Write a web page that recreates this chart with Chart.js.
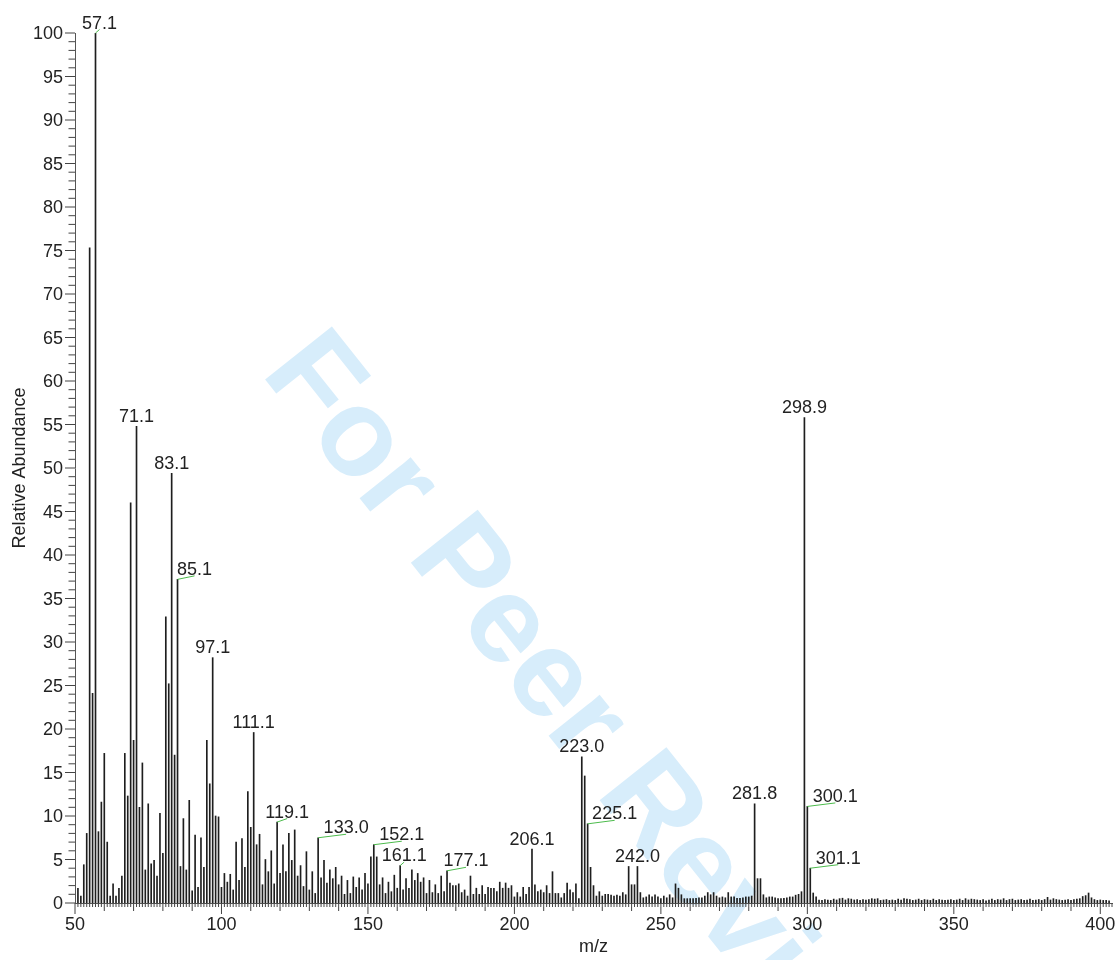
<!DOCTYPE html>
<html>
<head>
<meta charset="utf-8">
<script src="https://cdn.jsdelivr.net/npm/chart.js@4.4.0/dist/chart.umd.min.js"></script>
<style>
html,body{margin:0;padding:0;background:#ffffff;}
#wrap{width:1119px;height:960px;position:relative;}
canvas{display:block;}
</style>
</head>
<body>
<div id="wrap"><canvas id="c" width="1119" height="960"></canvas></div>
<script>
// ---- data (m/z, relative abundance %) ----
const mz = [
  51,52,53,54,55,56,57,58,59,60,
  61,62,63,64,65,66,67,68,69,70,
  71,72,73,74,75,76,77,78,79,80,
  81,82,83,84,85,86,87,88,89,90,
  91,92,93,94,95,96,97,98,99,100,
  101,102,103,104,105,106,107,108,109,110,
  111,112,113,114,115,116,117,118,119,120,
  121,122,123,124,125,126,127,128,129,130,
  131,132,133,134,135,136,137,138,139,140,
  141,142,143,144,145,146,147,148,149,150,
  151,152,153,154,155,156,157,158,159,160,
  161,162,163,164,165,166,167,168,169,170,
  171,172,173,174,175,176,177,178,179,180,
  181,182,183,184,185,186,187,188,189,190,
  191,192,193,194,195,196,197,198,199,200,
  201,202,203,204,205,206,207,208,209,210,
  211,212,213,214,215,216,217,218,219,220,
  221,222,223,224,225,226,227,228,229,230,
  231,232,233,234,235,236,237,238,239,240,
  241,242,243,244,245,246,247,248,249,250,
  251,252,253,254,255,256,257,258,259,260,
  261,262,263,264,265,266,267,268,269,270,
  271,272,273,274,275,276,277,278,279,280,
  281,282,283,284,285,286,287,288,289,290,
  291,292,293,294,295,296,297,298,299,300,
  301,302,303,304,305,306,307,308,309,310,
  311,312,313,314,315,316,317,318,319,320,
  321,322,323,324,325,326,327,328,329,330,
  331,332,333,334,335,336,337,338,339,340,
  341,342,343,344,345,346,347,348,349,350,
  351,352,353,354,355,356,357,358,359,360,
  361,362,363,364,365,366,367,368,369,370,
  371,372,373,374,375,376,377,378,379,380,
  381,382,383,384,385,386,387,388,389,390,
  391,392,393,394,395,396,397,398,399,400,
  401,402,403
];
const abundance = [
  1.7, 0.8, 4.4, 8.0, 75.3, 24.1, 100, 8.2, 11.6, 17.2,
  7.0, 0.8, 2.2, 0.8, 1.7, 3.1, 17.2, 12.3, 46.0, 18.7,
  54.8, 11.0, 16.1, 3.8, 11.4, 4.5, 4.9, 3.1, 10.3, 5.7,
  32.9, 25.2, 49.4, 17.0, 37.2, 4.2, 9.7, 3.8, 11.8, 1.4,
  7.8, 1.8, 7.5, 4.1, 18.7, 13.7, 28.2, 10.0, 9.9, 1.8,
  3.4, 2.4, 3.3, 1.5, 7.0, 2.6, 7.4, 4.1, 12.8, 8.7,
  19.6, 6.7, 7.9, 2.1, 5.0, 3.6, 6.0, 2.2, 9.3, 3.4,
  6.7, 3.6, 8.0, 4.9, 8.4, 3.1, 4.3, 1.9, 5.9, 1.5,
  3.6, 1.1, 7.5, 2.9, 4.9, 2.3, 3.8, 2.8, 4.1, 2.1,
  3.1, 1.0, 2.6, 1.1, 3.0, 1.8, 2.9, 1.5, 3.4, 2.2,
  5.3, 6.7, 5.3, 2.1, 2.9, 1.1, 2.4, 1.3, 3.2, 1.7,
  4.3, 1.5, 2.8, 1.7, 3.8, 2.6, 3.4, 2.4, 2.9, 1.1,
  2.6, 1.2, 2.1, 1.1, 3.1, 1.3, 3.7, 2.3, 2.0, 2.0,
  2.2, 1.2, 1.5, 0.8, 3.1, 1.0, 1.7, 1.0, 2.0, 1.0,
  1.8, 1.7, 1.7, 1.3, 2.4, 1.7, 2.3, 1.7, 2.0, 0.7,
  1.2, 0.7, 1.8, 1.0, 1.8, 6.2, 2.1, 1.3, 1.5, 1.2,
  2.0, 1.1, 3.6, 1.1, 1.1, 0.6, 1.1, 2.3, 1.5, 1.2,
  2.2, 0.5, 16.8, 14.6, 9.1, 4.1, 2.0, 0.8, 1.3, 0.8,
  1.0, 1.0, 0.9, 0.8, 0.9, 0.8, 1.2, 0.95, 4.2, 2.1,
  2.1, 4.2, 1.2, 0.6, 0.7, 0.95, 0.7, 0.95, 0.7, 0.5,
  0.8, 0.6, 0.95, 0.6, 2.2, 1.7, 0.95, 0.5, 0.5, 0.5,
  0.5, 0.55, 0.6, 0.6, 0.8, 1.2, 0.95, 1.2, 0.8, 0.6,
  0.7, 0.6, 1.2, 0.7, 0.7, 0.55, 0.55, 0.6, 0.7, 0.7,
  0.8, 11.4, 2.8, 2.8, 0.95, 0.6, 0.7, 0.7, 0.6, 0.5,
  0.5, 0.55, 0.6, 0.7, 0.7, 0.9, 1.0, 1.3, 55.8, 11.1,
  4.0, 1.15, 0.7, 0.35, 0.3, 0.4, 0.35, 0.3, 0.45, 0.35,
  0.5, 0.55, 0.35, 0.5, 0.45, 0.35, 0.4, 0.3, 0.4, 0.35,
  0.4, 0.5, 0.45, 0.5, 0.3, 0.35, 0.4, 0.3, 0.35, 0.3,
  0.45, 0.35, 0.5, 0.45, 0.4, 0.3, 0.35, 0.45, 0.3, 0.4,
  0.35, 0.3, 0.45, 0.3, 0.4, 0.35, 0.3, 0.35, 0.4, 0.3,
  0.35, 0.45, 0.3, 0.5, 0.35, 0.45, 0.4, 0.35, 0.3, 0.4,
  0.25, 0.35, 0.45, 0.3, 0.4, 0.35, 0.5, 0.3, 0.4, 0.45,
  0.3, 0.35, 0.4, 0.3, 0.35, 0.45, 0.3, 0.35, 0.4, 0.3,
  0.4, 0.65, 0.35, 0.5, 0.4, 0.35, 0.3, 0.35, 0.4, 0.3,
  0.4, 0.45, 0.5, 0.75, 0.85, 1.15, 0.6, 0.4, 0.3, 0.35,
  0.3, 0.3, 0.25
];
// annotated peaks
const peakLabelMz   = [57, 71, 83, 85, 97, 111, 119, 133, 152, 161, 177, 206, 223, 225, 242, 282, 299, 300, 301];
const peakLabelText = ['57.1','71.1','83.1','85.1','97.1','111.1','119.1','133.0','152.1','161.1','177.1','206.1','223.0','225.1','242.0','281.8','298.9','300.1','301.1'];
// axis tick labels
const xTickValues = [50, 100, 150, 200, 250, 300, 350, 400];
const yTickValues = [0,5,10,15,20,25,30,35,40,45,50,55,60,65,70,75,80,85,90,95,100];

// ---- styling ----
const FONT = 'Liberation Sans, Arial, Helvetica, sans-serif';
const TEXT = '#222222';
const LEADER = '#4cbb4c';
// horizontal offset (px) of labels that have a green leader line
const leaderOffsetPx = {57: 4, 85: 17, 119: 10, 133: 28, 152: 28, 161: 4, 177: 19, 225: 27, 300: 28, 301: 28};

const watermarkPlugin = {
  id: 'watermark',
  beforeDraw(chart) {
    const ctx = chart.ctx;
    ctx.save();
    ctx.translate(260, 373);
    ctx.rotate(51.5 * Math.PI / 180);
    ctx.font = 'bold 124px ' + FONT;
    ctx.fillStyle = 'rgb(215,237,251)';
    ctx.textAlign = 'left';
    ctx.textBaseline = 'alphabetic';
    ctx.fillText('For Peer Review', 0, 0);
    ctx.restore();
  }
};

const ticksPlugin = {
  id: 'spectrumTicks',
  afterDraw(chart) {
    const ctx = chart.ctx;
    const xs = chart.scales.x, ys = chart.scales.y;
    const area = chart.chartArea;
    ctx.save();
    ctx.strokeStyle = '#444';
    ctx.lineWidth = 1;
    ctx.beginPath();
    for (let v = Math.ceil(xs.min); v <= xs.max; v++) {
      const px = xs.getPixelForValue(v);
      const len = (v % 50 === 0) ? 11 : (v % 10 === 0 ? 8 : 4);
      ctx.moveTo(px, area.bottom);
      ctx.lineTo(px, area.bottom + len);
    }
    for (let v = ys.min; v <= ys.max; v++) {
      const py = ys.getPixelForValue(v);
      const len = (v % 5 === 0) ? 10 : 6.5;
      ctx.moveTo(area.left - len, py);
      ctx.lineTo(area.left, py);
    }
    ctx.stroke();

    // peak annotations
    ctx.font = '18px ' + FONT;
    ctx.fillStyle = TEXT;
    ctx.textAlign = 'center';
    ctx.textBaseline = 'alphabetic';
    peakLabelMz.forEach((m, i) => {
      const idx = mz.indexOf(m);
      const val = abundance[idx];
      const px = xs.getPixelForValue(m);
      const py = ys.getPixelForValue(val);
      const dx = leaderOffsetPx[m] || 0;
      const cx = px + dx;
      const by = py - 4.5;
      if (dx) {
        ctx.save();
        ctx.strokeStyle = LEADER;
        ctx.lineWidth = 1;
        ctx.beginPath();
        ctx.moveTo(px, py);
        ctx.lineTo(cx, by + 1);
        ctx.stroke();
        ctx.restore();
      }
      ctx.fillText(peakLabelText[i], cx, by);
    });
    ctx.restore();
  }
};

new Chart(document.getElementById('c'), {
  type: 'bar',
  data: {
    datasets: [{
      data: mz.map((m, i) => ({x: m, y: abundance[i]})),
      backgroundColor: '#1e1e1e',
      borderWidth: 0,
      barThickness: 1,
      categoryPercentage: 1,
      barPercentage: 1
    }]
  },
  options: {
    responsive: false,
    animation: false,
    devicePixelRatio: 1,
    layout: {padding: {left: 0, right: 7, top: 33, bottom: 0}},
    plugins: {legend: {display: false}, tooltip: {enabled: false}},
    scales: {
      x: {
        type: 'linear',
        position: 'bottom',
        min: 50,
        max: 404,
        offset: false,
        grid: {display: false, drawTicks: false, offset: false},
        border: {display: true, color: '#555', width: 1},
        ticks: {padding: 11, color: TEXT, font: {family: FONT, size: 18}, maxRotation: 0, autoSkip: false},
        afterBuildTicks: s => { s.ticks = xTickValues.map(v => ({value: v})); },
        afterFit: s => { s.height = 57; s.paddingLeft = 0; s.paddingRight = 0; },
        title: {display: true, text: 'm/z', color: TEXT, font: {family: FONT, size: 18}, padding: {top: 0, bottom: 2}}
      },
      y: {
        type: 'linear',
        position: 'left',
        min: 0,
        max: 100,
        grid: {display: false, drawTicks: false},
        border: {display: true, color: '#555', width: 1},
        ticks: {padding: 12, color: TEXT, font: {family: FONT, size: 18}, labelOffset: 1.5, autoSkip: false},
        afterBuildTicks: s => { s.ticks = yTickValues.map(v => ({value: v})); },
        afterFit: s => { s.width = 75; s.paddingTop = 0; s.paddingBottom = 0; },
        title: {display: true, text: 'Relative Abundance', color: TEXT, font: {family: FONT, size: 18}, padding: {top: 9, bottom: 0}}
      }
    }
  },
  plugins: [watermarkPlugin, ticksPlugin]
});
</script>
</body>
</html>
